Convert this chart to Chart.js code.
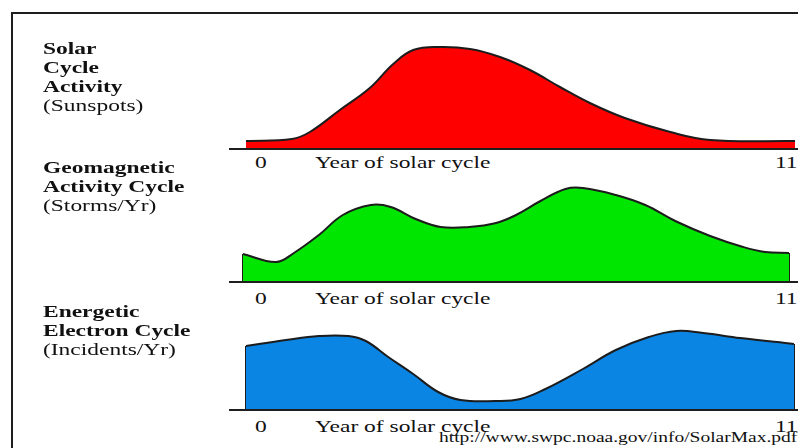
<!DOCTYPE html>
<html>
<head>
<meta charset="utf-8">
<script src="https://cdn.jsdelivr.net/npm/chart.js@4/dist/chart.umd.min.js"></script>
<style>
  html, body { margin: 0; padding: 0; background: #fff; overflow: hidden; }
  #stage { position: relative; width: 798px; height: 448px; overflow: hidden; background: #fff; }
  canvas { position: absolute; left: 0; }
  .line { position: absolute; background: #1e1e1e; }
  .txt { position: absolute; font-family: "Liberation Serif", "Times New Roman", serif; color: #111;
         white-space: nowrap; transform-origin: 0 0; }
  .title { font-size: 17px; line-height: 19px; transform: scaleX(1.38); }
  .title b { font-weight: bold; }
  .tick { font-size: 17px; line-height: 17px; transform: scaleX(1.38); }
  .url { font-size: 15px; line-height: 15px; transform: scaleX(1.3); }
</style>
</head>
<body>
<div id="stage"></div>
<script>
// ---- data (years of the solar cycle vs. relative level) ----
const sunspotYears  = [0, 0.92, 1.28, 1.88, 2.48, 2.95, 3.35, 3.89, 4.49, 5.09, 5.69, 6.29, 6.89, 7.59, 8.50, 9.30, 11.0];
const sunspotLevels = [7, 9, 16, 38, 60, 84, 98, 101, 99, 91, 78, 61, 45, 30, 16, 8, 7];

const stormYears  = [-0.06, 0.60, 0.96, 1.46, 1.94, 2.50, 2.90, 3.40, 3.90, 4.47, 5.01, 5.41, 5.90, 6.40, 6.75, 7.41, 8.00, 8.60, 9.30, 9.96, 10.40, 10.88];
const stormLevels = [27, 19, 28, 46, 66, 76, 74, 62, 54, 54, 58, 66, 80, 92, 93, 86, 76, 60, 45, 34, 29, 28];

const electronYears  = [0, 0.80, 1.46, 2.05, 2.40, 2.85, 3.35, 3.85, 4.30, 5.00, 5.50, 6.00, 6.75, 7.41, 8.07, 8.62, 9.16, 9.90, 10.98];
const electronLevels = [63, 69, 73, 73, 68, 52, 35, 17, 9, 8, 10, 20, 40, 59, 72, 78, 76, 71, 65];

const tickLabels = ["0", "Year of solar cycle", "11"];
const panelTitles = [
  ["Solar", "Cycle", "Activity"],
  ["Geomagnetic", "Activity Cycle"],
  ["Energetic", "Electron Cycle"]
];
const panelUnits = ["(Sunspots)", "(Storms/Yr)", "(Incidents/Yr)"];
const sourceText = "http://www.swpc.noaa.gov/info/SolarMax.pdf";

// ---- layout ----
const stage = document.getElementById('stage');
const YMAX = 110, PAD_TOP = 4, PAD_BOTTOM = 0;
const panels = [
  { years: sunspotYears,  levels: sunspotLevels,  color: '#ff0000', base: 148, edges: false, titleTop: 39,  tickBase: 168 },
  { years: stormYears,    levels: stormLevels,    color: '#00e600', base: 281, edges: true,  titleTop: 158, tickBase: 304 },
  { years: electronYears, levels: electronLevels, color: '#0b85e3', base: 409, edges: true,  titleTop: 302, tickBase: 432 }
];

function addLine(x, y, w, h) {
  const d = document.createElement('div');
  d.className = 'line';
  d.style.left = x + 'px'; d.style.top = y + 'px';
  d.style.width = w + 'px'; d.style.height = h + 'px';
  stage.appendChild(d);
}
function addText(cls, html, x, top) {
  const d = document.createElement('div');
  d.className = 'txt ' + cls;
  d.innerHTML = html;
  d.style.left = x + 'px'; d.style.top = top + 'px';
  stage.appendChild(d);
  return d;
}

// frame
addLine(11, 12, 2, 436);
addLine(11, 12, 787, 2);

panels.forEach((p, i) => {
  const cv = document.createElement('canvas');
  const h = YMAX + PAD_TOP + PAD_BOTTOM;
  cv.width = 798; cv.height = h;
  cv.style.width = '798px'; cv.style.height = h + 'px';
  cv.style.top = (p.base - YMAX - PAD_TOP) + 'px';
  stage.appendChild(cv);

  const pts = p.years.map((x, k) => ({ x: x, y: p.levels[k] }));
  const datasets = [{
    data: pts,
    fill: 'origin',
    backgroundColor: p.color,
    borderColor: '#1c1c1c',
    borderWidth: 2,
    pointRadius: 0,
    tension: 0.4,
    clip: false
  }];
  if (p.edges) {
    const n = pts.length - 1;
    [[pts[0].x, pts[0].y], [pts[n].x, pts[n].y]].forEach(([ex, ey]) => {
      datasets.push({
        data: [{ x: ex, y: 0 }, { x: ex, y: ey }],
        fill: false, borderColor: '#1c1c1c', borderWidth: 2,
        pointRadius: 0, tension: 0, clip: false
      });
    });
  }

  new Chart(cv, {
    type: 'line',
    data: { datasets },
    options: {
      responsive: false,
      animation: false,
      devicePixelRatio: 1,
      layout: { padding: { left: 241, right: 3, top: PAD_TOP, bottom: PAD_BOTTOM } },
      plugins: { legend: { display: false }, tooltip: { enabled: false }, title: { display: false } },
      scales: {
        x: { type: 'linear', min: -0.1, max: 11, display: false },
        y: { type: 'linear', min: 0, max: YMAX, display: false }
      }
    }
  });

  // axis line
  addLine(229, p.base, 569, 2);

  // tick labels
  const tb = p.tickBase - 14;
  addText('tick', tickLabels[0], 255, tb);
  addText('tick', tickLabels[1], 315, tb);
  addText('tick', tickLabels[2], 775, tb);

  // panel titles
  const lines = panelTitles[i].map(t => '<b>' + t + '</b>').concat([panelUnits[i]]);
  addText('title', lines.join('<br>'), 43, p.titleTop);
});

addText('url', sourceText, 439, 442 - 12);
</script>
</body>
</html>
